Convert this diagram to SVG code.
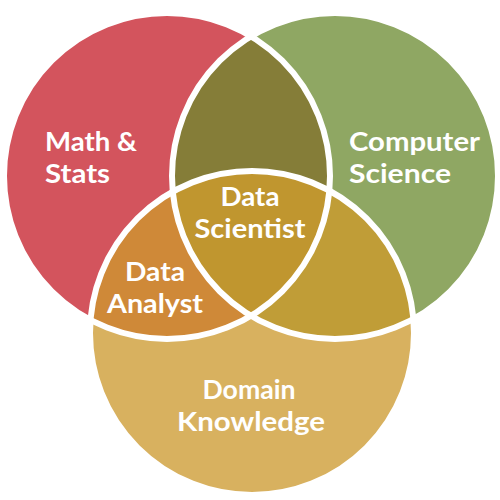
<svg xmlns="http://www.w3.org/2000/svg" width="500" height="500" viewBox="0 0 500 500">
<style>
.lbl{font-family:Lato,"Open Sans","Liberation Sans",sans-serif;font-weight:700;font-size:26px;fill:#ffffff}
.mid{text-anchor:middle}
.ring{fill:none;stroke:#ffffff;stroke-width:6}
</style>
<defs>
<clipPath id="cR"><circle cx="167" cy="176" r="163"/></clipPath>
<clipPath id="cG"><circle cx="335" cy="176" r="163"/></clipPath>
<clipPath id="cB"><circle cx="252" cy="333" r="162"/></clipPath>
</defs>
<rect width="500" height="500" fill="#ffffff"/>
<g id="math-stats">
<circle cx="167" cy="176" r="163" fill="#D3545D"/>
</g>
<g id="computer-science">
<circle cx="335" cy="176" r="163" fill="#8FA763"/>
</g>
<g id="domain-knowledge">
<circle cx="252" cy="333" r="162" fill="#D8B15F"/>
</g>
<g id="overlaps">
<g clip-path="url(#cR)"><circle cx="335" cy="176" r="163" fill="#857D38"/></g>
<g clip-path="url(#cR)"><circle cx="252" cy="333" r="162" fill="#CF8938"/></g>
<g clip-path="url(#cG)"><circle cx="252" cy="333" r="162" fill="#C09D37"/></g>
<g clip-path="url(#cR)"><g clip-path="url(#cG)"><circle cx="252" cy="333" r="162" fill="#C0962F"/></g></g>
</g>
<g id="outlines">
<circle class="ring" cx="167" cy="176" r="163"/>
<circle class="ring" cx="335" cy="176" r="163"/>
<circle class="ring" cx="252" cy="333" r="162"/>
</g>
<g id="labels">
<text class="lbl" x="45" y="151" textLength="92" lengthAdjust="spacingAndGlyphs">Math &amp;</text>
<text class="lbl" x="45" y="183" textLength="65" lengthAdjust="spacingAndGlyphs">Stats</text>
<text class="lbl" x="349" y="151" textLength="131" lengthAdjust="spacingAndGlyphs">Computer</text>
<text class="lbl" x="349" y="183" textLength="102" lengthAdjust="spacingAndGlyphs">Science</text>
<text class="lbl mid" x="250" y="206" textLength="59" lengthAdjust="spacingAndGlyphs">Data</text>
<text class="lbl mid" x="250" y="238" textLength="111" lengthAdjust="spacingAndGlyphs">Scientist</text>
<text class="lbl mid" x="155" y="281" textLength="60" lengthAdjust="spacingAndGlyphs">Data</text>
<text class="lbl mid" x="155" y="313" textLength="96" lengthAdjust="spacingAndGlyphs">Analyst</text>
<text class="lbl mid" x="249" y="399" textLength="93" lengthAdjust="spacingAndGlyphs">Domain</text>
<text class="lbl mid" x="251" y="431" textLength="148" lengthAdjust="spacingAndGlyphs">Knowledge</text>
</g>
</svg>
